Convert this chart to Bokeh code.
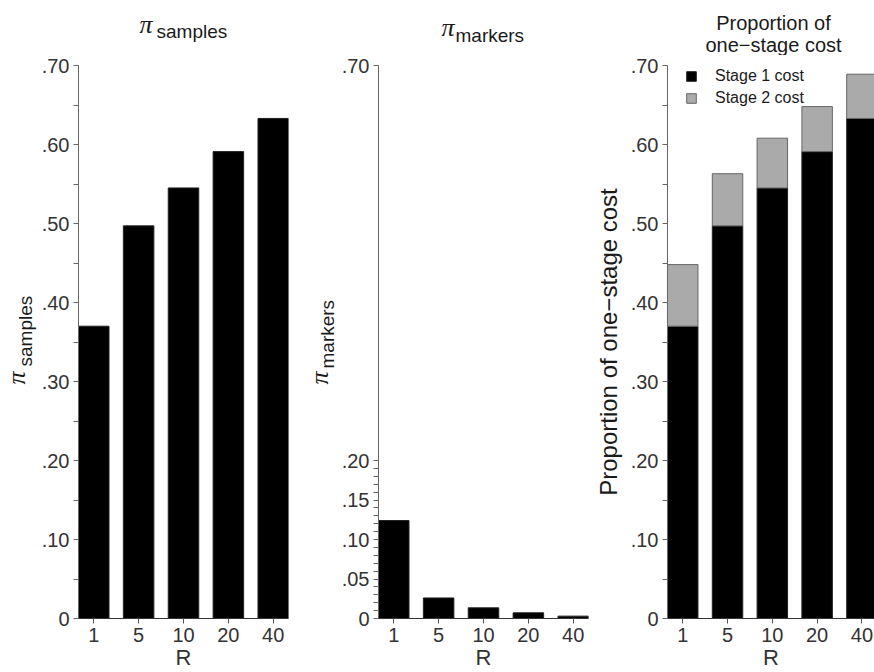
import math
from bokeh.plotting import figure
from bokeh.models import Range1d, FixedTicker, CustomJSTickFormatter, Label, Legend, LegendItem
from bokeh.layouts import row, column
from bokeh.embed import file_html
from bokeh.resources import INLINE

# ---- data ----
R_labels = ["1", "5", "10", "20", "40"]
pi_samples = [0.370, 0.497, 0.545, 0.591, 0.633]
pi_markers = [0.124, 0.026, 0.0135, 0.0072, 0.003]
stage1_cost = [0.370, 0.497, 0.545, 0.591, 0.633]
stage2_cost = [0.078, 0.066, 0.063, 0.057, 0.056]
y_major_ticks_full = [0.0, 0.1, 0.2, 0.3, 0.4, 0.5, 0.6, 0.7]
y_minor_ticks_full = [0.05, 0.15, 0.25, 0.35, 0.45, 0.55, 0.65]
y_major_ticks_markers = [0.0, 0.05, 0.10, 0.15, 0.20, 0.70]
y_minor_ticks_markers = [i / 100 for i in range(1, 20) if i % 5 != 0]

FONT = "Liberation Sans"
PI_FONT = "Liberation Serif"
W, H = 874, 672
TITLE_H = 55          # height of the title strip
MAIN_H = H - TITLE_H  # height of the plot row
TOP, BOTTOM = 10, 52
FRAME_BOTTOM = H - BOTTOM   # page y of the plot frames' bottom (y-label strips align to it)
BAR_W = 0.68
TICK_FONT = "20px"
TXT = "#1a1a1a"
BASE_K = 0.36  # empirical baseline correction (fraction of font size)

x_pos = list(range(1, len(R_labels) + 1))


def blank(width, height):
    f = figure(width=width, height=height, output_backend="svg", toolbar_location=None,
               x_range=Range1d(0, 1), y_range=Range1d(0, 1),
               x_axis_location=None, y_axis_location=None, title_location=None,
               min_border=0, min_border_left=0, min_border_right=0,
               min_border_top=0, min_border_bottom=0)
    f.grid.visible = False
    f.outline_line_color = None
    return f


def lab(f, page_x, page_y, fig_x0, frame_bottom, text, font=FONT, size=19,
        style="normal", align="left", vertical=False):
    k = BASE_K * size
    if vertical:
        page_x -= k
    else:
        page_y -= k
    f.add_layout(Label(x=page_x - fig_x0, y=frame_bottom - page_y,
                       x_units="screen", y_units="screen",
                       angle=math.pi / 2 if vertical else 0.0,
                       text=text, text_font=font, text_font_size=f"{size}px",
                       text_font_style=style, text_color=TXT,
                       text_align=align, text_baseline="alphabetic"))


def make_fig(width, left_border, right_border, x_end, major, minor):
    p = figure(width=width, height=MAIN_H, output_backend="svg", toolbar_location=None,
               x_range=Range1d(1 - BAR_W / 2, x_end), y_range=Range1d(0, 0.70),
               title_location=None,
               min_border_left=left_border, min_border_right=right_border,
               min_border_top=TOP, min_border_bottom=BOTTOM)
    p.outline_line_color = None
    p.grid.visible = False

    xa = p.xaxis[0]
    xa.ticker = FixedTicker(ticks=x_pos)
    xa.formatter = CustomJSTickFormatter(args=dict(labels=R_labels),
                                         code="return labels[Math.round(tick) - 1]")
    xa.axis_label = "R"
    xa.axis_label_text_font = FONT
    xa.axis_label_text_font_size = "22px"
    xa.axis_label_text_font_style = "normal"
    xa.axis_label_text_color = "#333333"
    xa.axis_label_standoff = 0
    xa.major_label_text_font = FONT
    xa.major_label_text_font_size = TICK_FONT
    xa.major_label_text_color = "#333333"
    xa.major_label_standoff = 4
    xa.major_tick_out = 5
    xa.major_tick_in = 0
    xa.minor_tick_out = 0
    xa.axis_line_color = "#333333"
    xa.major_tick_line_color = "#555555"

    ya = p.yaxis[0]
    ya.ticker = FixedTicker(ticks=major, minor_ticks=minor)
    ya.formatter = CustomJSTickFormatter(
        code="return tick == 0 ? '0' : tick.toFixed(2).substring(1)")
    ya.major_label_text_font = FONT
    ya.major_label_text_font_size = TICK_FONT
    ya.major_label_text_color = "#333333"
    ya.major_label_standoff = 4
    ya.major_tick_out = 5
    ya.major_tick_in = 0
    ya.minor_tick_out = 5
    ya.minor_tick_in = 0
    ya.axis_line_color = "#666666"
    ya.major_tick_line_color = "#666666"
    ya.minor_tick_line_color = "#666666"
    return p


# ---- title strip ----
top = blank(W, TITLE_H)
lab(top, 139, 33, 0, TITLE_H, "π", font=PI_FONT, size=26, style="italic")
lab(top, 156, 38, 0, TITLE_H, "samples")
lab(top, 441, 36, 0, TITLE_H, "π", font=PI_FONT, size=26, style="italic")
lab(top, 455, 42, 0, TITLE_H, "markers")
lab(top, 773, 30, 0, TITLE_H, "Proportion of", size=20, align="center")
lab(top, 773, 52, 0, TITLE_H, "one\u2212stage cost", size=20, align="center")

# ---- y-label strips (rotated π with subscript) ----
YL_W = 38
yl1 = blank(YL_W, MAIN_H)
lab(yl1, 25, 386, 0, FRAME_BOTTOM, "π", font=PI_FONT, size=26, style="italic", vertical=True)
lab(yl1, 32, 368, 0, FRAME_BOTTOM, "samples", vertical=True)

yl2 = blank(YL_W, MAIN_H)
lab(yl2, 328, 386, 300, FRAME_BOTTOM, "π", font=PI_FONT, size=26, style="italic", vertical=True)
lab(yl2, 334, 370, 300, FRAME_BOTTOM, "markers", vertical=True)

# ---- panel 1: pi_samples ----
p1 = make_fig(300 - YL_W, 78 - YL_W, 12, len(R_labels) + BAR_W / 2,
              y_major_ticks_full, y_minor_ticks_full)
p1.vbar(x=x_pos, top=pi_samples, width=BAR_W, fill_color="black", line_color="#222222")

# ---- panel 2: pi_markers ----
p2 = make_fig(589 - 300 - YL_W, 78 - YL_W, 1, len(R_labels) + BAR_W / 2,
              y_major_ticks_markers, y_minor_ticks_markers)
p2.vbar(x=x_pos, top=pi_markers, width=BAR_W, fill_color="black", line_color="#222222")

# ---- panel 3: proportion of one-stage cost ----
frame3_w = W - 589 - 78
x_end3 = (1 - BAR_W / 2) + frame3_w / 44.8
p3 = make_fig(W - 589, 78, 0, x_end3, y_major_ticks_full, y_minor_ticks_full)
src = dict(x=x_pos, stage1=stage1_cost, stage2=stage2_cost)
rs = p3.vbar_stack(["stage1", "stage2"], x="x", width=BAR_W, source=src,
                   fill_color=["black", "#aaaaaa"], line_color=["#222222", "#666666"])
ya3 = p3.yaxis[0]
ya3.axis_label = "Proportion of one\u2212stage cost"
ya3.axis_label_text_font = FONT
ya3.axis_label_text_font_size = "24px"
ya3.axis_label_text_font_style = "normal"
ya3.axis_label_text_color = TXT
ya3.axis_label_standoff = 6
legend = Legend(items=[LegendItem(label="Stage 1 cost", renderers=[rs[0]]),
                       LegendItem(label="Stage 2 cost", renderers=[rs[1]])],
                location=(18, 511), orientation="vertical",
                background_fill_alpha=0, border_line_alpha=0,
                padding=0, margin=0, spacing=4,
                glyph_width=12, glyph_height=12, label_standoff=18,
                label_text_font=FONT, label_text_font_size="16px",
                label_text_color=TXT)
p3.add_layout(legend)

layout = column(top, row(yl1, p1, yl2, p2, p3))
open("out.html", "w").write(file_html(layout, INLINE))
